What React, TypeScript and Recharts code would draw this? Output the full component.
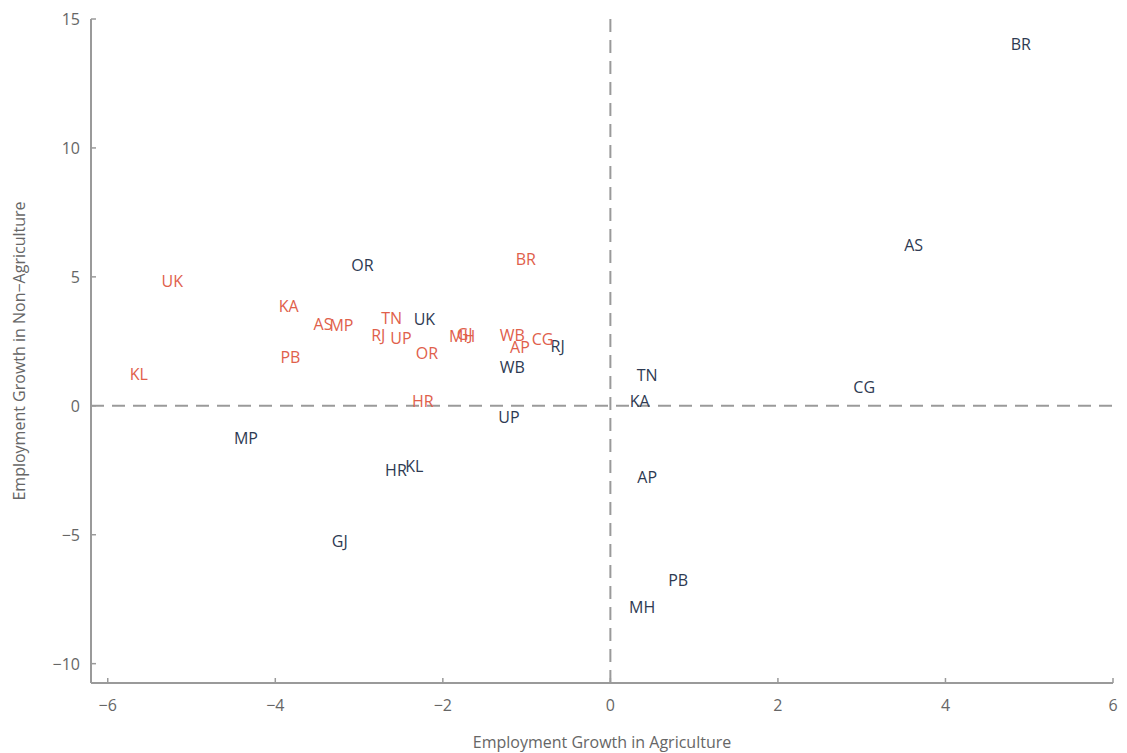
import React from 'react';
import {
  ScatterChart,
  Scatter,
  XAxis,
  YAxis,
  ReferenceLine
} from 'recharts';

// state codes for each series
const statesA = ['BR', 'AS', 'OR', 'UK', 'RJ', 'WB', 'TN', 'CG', 'KA', 'UP', 'MP', 'AP', 'HR', 'KL', 'GJ', 'PB', 'MH'];
const agriA = [4.9, 3.62, -2.96, -2.22, -0.63, -1.17, 0.44, 3.03, 0.35, -1.21, -4.35, 0.44, -2.56, -2.34, -3.23, 0.81, 0.38];
const nonAgriA = [14.03, 6.24, 5.47, 3.37, 2.33, 1.51, 1.2, 0.74, 0.19, -0.43, -1.24, -2.75, -2.48, -2.33, -5.23, -6.74, -7.79];

const statesB = ['UK', 'KA', 'AS', 'MP', 'TN', 'RJ', 'UP', 'PB', 'KL', 'OR', 'MH', 'GJ', 'WB', 'CG', 'AP', 'BR', 'HR'];
const agriB = [-5.23, -3.84, -3.43, -3.21, -2.61, -2.77, -2.5, -3.82, -5.63, -2.19, -1.77, -1.74, -1.17, -0.81, -1.08, -1.01, -2.24];
const nonAgriB = [4.84, 3.88, 3.18, 3.14, 3.41, 2.75, 2.64, 1.9, 1.24, 2.05, 2.71, 2.79, 2.75, 2.6, 2.29, 5.7, 0.19];

const xTicks = [-6, -4, -2, 0, 2, 4, 6];
const yTicks = [-10, -5, 0, 5, 10, 15];

const NAVY = '#2e3a52';
const ORANGE = '#e0604b';
const AXIS = '#9a9a9a';
const FONT = '"Open Sans", sans-serif';

const buildRows = (states: string[], xs: number[], ys: number[]) =>
  states.map((s, i) => ({ state: s, x: xs[i], y: ys[i] }));

const dataA = buildRows(statesA, agriA, nonAgriA);
const dataB = buildRows(statesB, agriB, nonAgriB);

const fmt = (v: number) => (v < 0 ? `\u2212${Math.abs(v)}` : `${v}`);

const makeLabel = (color: string) =>
  function LabelShape(props: any) {
    const { cx, cy, payload } = props;
    return (
      <text
        x={cx}
        y={cy}
        textAnchor="middle"
        dominantBaseline="central"
        fill={color}
        fontSize={16}
        fontFamily={FONT}
      >
        {payload.state}
      </text>
    );
  };

const XTick = (props: any) => {
  const { x, y, payload } = props;
  return (
    <g>
      <line x1={x} x2={x} y1={y - 22} y2={y - 27} stroke={AXIS} strokeWidth={1.5} />
      <text x={x} y={y} textAnchor="middle" dominantBaseline="central" fill="#666" fontSize={16} fontFamily={FONT}>
        {fmt(payload.value)}
      </text>
    </g>
  );
};

const YTick = (props: any) => {
  const { x, y, payload } = props;
  return (
    <g>
      <line x1={x + 11} x2={x + 16} y1={y} y2={y} stroke={AXIS} strokeWidth={1.5} />
      <text x={x} y={y} textAnchor="end" dominantBaseline="central" fill="#666" fontSize={16} fontFamily={FONT}>
        {fmt(payload.value)}
      </text>
    </g>
  );
};

export default function App() {
  return (
    <div style={{ position: 'absolute', left: 0, top: 0, background: '#fff' }}>
      <ScatterChart width={1127} height={753} margin={{ top: 19, right: 14, left: 0, bottom: 0 }}>
        <XAxis
          type="number"
          dataKey="x"
          domain={[-6.2, 6]}
          ticks={xTicks}
          allowDataOverflow
          height={70}
          stroke={AXIS}
          strokeWidth={2}
          tickLine={false}
          tickSize={0}
          tickMargin={22}
          tick={<XTick />}
          label={{
            value: 'Employment Growth in Agriculture',
            position: 'insideBottom',
            offset: 5,
            fill: '#666',
            fontSize: 16,
            fontFamily: FONT
          }}
        />
        <YAxis
          type="number"
          dataKey="y"
          domain={[-10.75, 15]}
          ticks={yTicks}
          allowDataOverflow
          width={91}
          stroke={AXIS}
          strokeWidth={2}
          tickLine={false}
          tickSize={0}
          tickMargin={11}
          tick={<YTick />}
          label={{
            value: 'Employment Growth in Non\u2212Agriculture',
            angle: -90,
            position: 'insideLeft',
            offset: 19,
            style: { textAnchor: 'middle' },
            fill: '#666',
            fontSize: 16,
            fontFamily: FONT
          }}
        />
        <ReferenceLine x={0} stroke={AXIS} strokeWidth={2} strokeDasharray="13 8" />
        <ReferenceLine y={0} stroke={AXIS} strokeWidth={2} strokeDasharray="13 8" />
        <Scatter data={dataA} shape={makeLabel(NAVY)} isAnimationActive={false} />
        <Scatter data={dataB} shape={makeLabel(ORANGE)} isAnimationActive={false} />
      </ScatterChart>
    </div>
  );
}
